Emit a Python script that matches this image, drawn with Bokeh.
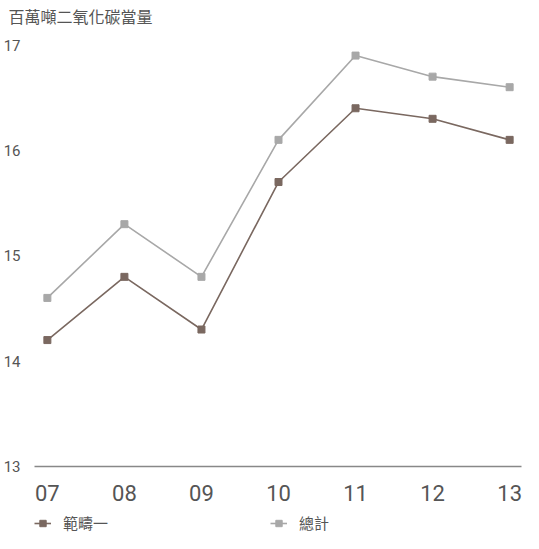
import numpy as np
from bokeh.plotting import figure
from bokeh.layouts import column
from bokeh.models import FixedTicker, Legend, LegendItem, Range1d, Title
from bokeh.embed import file_html
from bokeh.resources import INLINE

years = ["07", "08", "09", "10", "11", "12", "13"]
scope1 = [14.2, 14.8, 14.3, 15.7, 16.4, 16.3, 16.1]
total = [14.6, 15.3, 14.8, 16.1, 16.9, 16.7, 16.6]
y_ticks = [13, 14, 15, 16, 17]
title_text = "百萬噸二氧化碳當量"
name1 = "範疇一"
name2 = "總計"

c1 = "#7a6860"
c2 = "#a8a8a8"
cjk = "Noto Sans CJK TC"

x = np.arange(len(years))

p = figure(width=523, height=511, output_backend="svg", toolbar_location=None,
           x_range=Range1d(-0.167, 6.154), y_range=Range1d(13, 17.157),
           min_border_left=28, min_border_right=2, min_border_top=4,
           min_border_bottom=45)
p.outline_line_color = None
p.grid.visible = False
p.background_fill_color = "white"

t = Title(text=title_text, align="left", offset=-26, text_font=cjk,
          text_font_size="16px", text_font_style="normal", text_color="#555555",
          standoff=2)
p.add_layout(t, "above")

p.line(x, scope1, line_color=c1, line_width=1.6)
p.scatter(x, scope1, marker="square", size=7, fill_color=c1, line_color=c1)
p.line(x, total, line_color=c2, line_width=1.6)
p.scatter(x, total, marker="square", size=7, fill_color=c2, line_color=c2)

p.xaxis.ticker = FixedTicker(ticks=list(x))
p.xaxis.major_label_overrides = {int(i): years[i] for i in x}
p.xaxis.axis_line_color = "#888888"
p.xaxis.axis_line_width = 1.5
p.xaxis.major_tick_line_color = None
p.xaxis.minor_tick_line_color = None
p.xaxis.major_label_text_font = "Roboto"
p.xaxis.major_label_text_font_size = "22px"
p.xaxis.major_label_text_color = "#555555"
p.xaxis.major_label_standoff = 12

p.yaxis.ticker = FixedTicker(ticks=y_ticks)
p.yaxis.axis_line_color = None
p.yaxis.major_tick_line_color = None
p.yaxis.minor_tick_line_color = None
p.yaxis.major_label_text_font = "Roboto"
p.yaxis.major_label_text_font_size = "15px"
p.yaxis.major_label_text_color = "#555555"
p.yaxis.major_label_standoff = 8

# legend strip below the chart (its own copies of the series lie outside its view)
q = figure(width=523, height=22, output_backend="svg", toolbar_location=None,
           x_axis_type=None, y_axis_type=None, min_border_left=28,
           min_border_right=2, min_border_top=0, min_border_bottom=0,
           x_range=Range1d(100, 101), y_range=Range1d(100, 101))
q.outline_line_color = None
l1 = q.line(x, scope1, line_color=c1, line_width=1.6)
s1 = q.scatter(x, scope1, marker="square", size=7, fill_color=c1, line_color=c1)
l2 = q.line(x, total, line_color=c2, line_width=1.6)
s2 = q.scatter(x, total, marker="square", size=7, fill_color=c2, line_color=c2)
legend = Legend(items=[LegendItem(label=name1, renderers=[l1, s1]),
                       LegendItem(label=name2, renderers=[l2, s2])],
                orientation="horizontal", location=(0, 0),
                glyph_width=17, glyph_height=16, label_standoff=12, spacing=162,
                label_text_font=cjk, label_text_font_size="15px",
                label_text_color="#555555", border_line_color=None,
                background_fill_alpha=0, padding=0, margin=0)
q.add_layout(legend, "center")

layout = column(p, q, spacing=0)
open("out.html", "w").write(file_html(layout, INLINE))
